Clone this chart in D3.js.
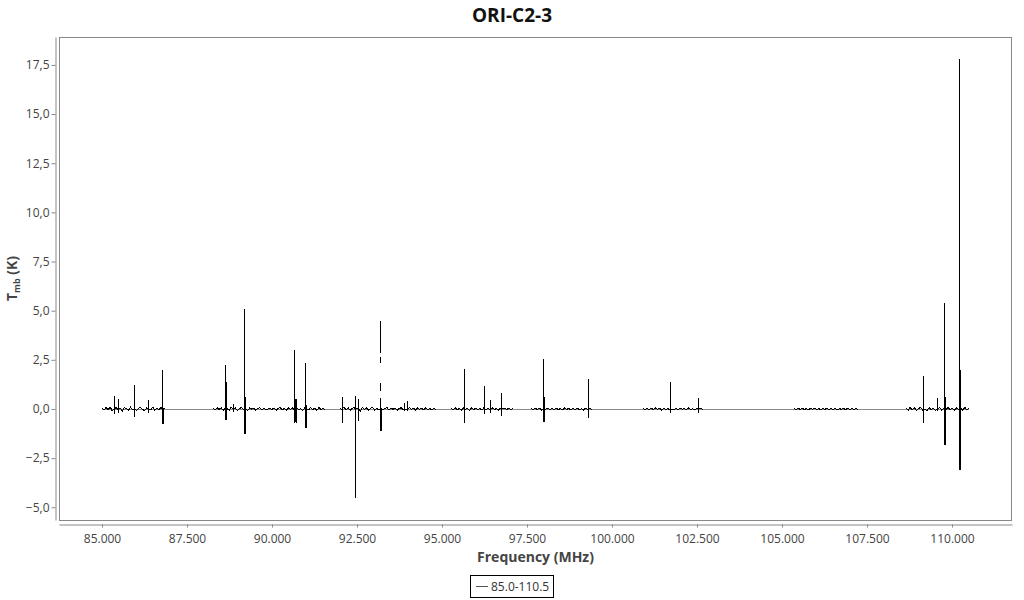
<!DOCTYPE html>
<html><head><meta charset="utf-8">
<script src="https://cdn.jsdelivr.net/npm/d3@7"></script>
<style>body{margin:0;background:#fff}svg{display:block;font-family:"Open Sans","Noto Sans",sans-serif}</style>
</head><body><svg id="c" width="1024" height="600"></svg>
<script>
// ---- data ----
const title = "ORI-C2-3";
const seriesName = "85.0-110.5";
const xTicks = [85000,87500,90000,92500,95000,97500,100000,102500,105000,107500,110000];
const yTicks = [-5,-2.5,0,2.5,5,7.5,10,12.5,15,17.5];
// observed frequency windows (MHz)
const segStart = [85000,88265,92000,95264,97617,100911,105352,108646];
const segEnd   = [86853,91558,94823,97088,99411,102676,107234,110500];
// baseline noise samples (K), evenly spread over each window
const segNoise = [
 [0.04,-0.06,0.08,-0.03,0.10,-0.09,0.02,0.07,-0.05,0.03,-0.10,0.06,0.01,-0.07,0.09,-0.04,0.05,-0.08,0.03,0.08,-0.02,-0.09,0.06,0.00,-0.05,0.10,-0.06,0.04,-0.03,0.07,-0.08,0.02],
 [0.03,-0.05,0.07,-0.02,0.06,-0.08,0.04,0.01,-0.06,0.09,-0.03,0.05,-0.07,0.02,0.08,-0.04,0.03,-0.09,0.06,-0.01,0.05,-0.06,0.02,0.07,-0.05,0.04,-0.03,0.00,0.02,-0.02,0.06,-0.07,0.03,0.08,-0.05,0.04,-0.08,0.06,-0.02,0.05,-0.06,0.09,-0.04,0.02,-0.07,0.05,0.01,-0.05,0.08,-0.03,0.04,-0.06,0.07,-0.02,0.03,-0.04],
 [0.05,-0.07,0.09,-0.04,0.06,-0.08,0.03,0.07,-0.05,0.02,-0.09,0.08,-0.03,0.05,-0.06,0.04,0.09,-0.07,0.02,-0.04,0.06,-0.05,0.03,0.07,-0.06,0.04,-0.02,0.05,-0.07,0.03,0.06,-0.04,0.02,-0.05,0.07,-0.03,0.04,-0.06,0.05,-0.02,0.03,-0.05,0.06,-0.04,0.02,-0.06,0.04,-0.03],
 [0.03,-0.05,0.06,-0.04,0.02,-0.06,0.05,-0.02,0.04,-0.07,0.06,-0.03,0.05,-0.04,0.03,-0.06,0.07,-0.02,0.04,-0.05,0.06,-0.03,0.02,-0.05,0.04,-0.06,0.05,-0.02,0.03,-0.04,0.02],
 [0.02,-0.04,0.05,-0.03,0.04,-0.05,0.03,-0.02,0.05,-0.04,0.03,-0.05,0.04,-0.03,0.02,-0.04,0.05,-0.02,0.03,-0.05,0.04,-0.03,0.05,-0.04,0.02,-0.05,0.04,-0.02,0.03,-0.03],
 [0.03,-0.04,0.02,-0.05,0.04,-0.03,0.05,-0.02,0.03,-0.05,0.04,-0.03,0.02,-0.04,0.05,-0.03,0.03,-0.05,0.04,-0.02,0.03,-0.04,0.05,-0.03,0.02,-0.05,0.04,-0.02,0.03,-0.04],
 [0.02,-0.03,0.03,-0.02,0.04,-0.03,0.02,-0.04,0.03,-0.02,0.03,-0.03,0.02,-0.04,0.03,-0.02,0.04,-0.03,0.02,-0.03,0.03,-0.04,0.02,-0.02,0.03,-0.03,0.04,-0.02,0.02,-0.03,0.03,-0.02],
 [0.05,-0.07,0.08,-0.04,0.06,-0.08,0.03,0.07,-0.06,0.04,-0.09,0.07,-0.03,0.05,-0.07,0.04,0.08,-0.06,0.03,-0.05,0.07,-0.04,0.05,-0.08,0.06,-0.03,0.04,-0.06,0.08,-0.05,0.03]
];
// spectral lines: frequency (MHz), peak (K), dip (K), shoulder (K, thick part) or null
const lineFreq = [85353,85479,85950,86362,86773,88638,88862,89185,90676,90991,92067,92461,92550,93185,93911,93991,95655,96243,96431,96755,97979,99302,101735,102550,109175,109566,109772,110213];
const linePeak = [0.66,0.49,1.22,0.46,1.99,2.24,0.25,5.09,3.00,2.33,0.60,0.66,0.52,0.55,0.30,0.41,2.02,1.17,0.46,0.80,2.53,1.51,1.36,0.54,1.68,0.54,5.38,17.82];
const lineDip  = [-0.25,-0.20,-0.39,-0.20,-0.76,-0.56,-0.14,-1.29,-0.70,-0.98,-0.73,-4.55,-0.61,-1.12,-0.10,-0.10,-0.70,-0.27,-0.19,-0.34,-0.65,-0.47,-0.19,-0.22,-0.70,-0.10,-1.83,-3.10];
const lineShoulder = [null,null,null,null,-0.3,1.39,null,0.63,0.50,0.20,null,null,null,-0.56,null,null,null,null,null,null,0.63,null,null,null,null,null,0.60,1.99];
// broken upper part of the 93185 MHz line
const brokenFreq = 93185;
const brokenTop = [4.45,2.63,1.31];
const brokenBottom = [2.83,2.33,0.93];

// ---- chart ----
const svg = d3.select("#c");
const L = 59, R = 1012, T = 37, B = 520;
const x = d3.scaleLinear().domain([83735,111765]).range([L,R]);
const y = d3.scaleLinear().domain([-5.647,18.92]).range([B,T]);
const loc = d3.formatLocale({decimal:",",thousands:".",grouping:[3],currency:["",""]});
const fx = loc.format(",.0f"), fy = loc.format(".1f");

svg.append("text").attr("x",512).attr("y",22).attr("text-anchor","middle")
  .attr("font-size",19).attr("font-weight","bold").attr("fill","#111").text(title);

svg.append("rect").attr("x",L+0.5).attr("y",T+0.5).attr("width",R-L-1).attr("height",B-T)
  .attr("fill","none").attr("stroke","#888");

const gx = svg.append("g").attr("transform",`translate(0,524.5)`)
  .call(d3.axisBottom(x).tickValues(xTicks).tickFormat(fx).tickSize(3).tickSizeOuter(0));
gx.select(".domain").attr("stroke","#888");
gx.selectAll(".tick line").attr("stroke","#888");
gx.selectAll(".tick text").attr("fill","#444").attr("font-size",12).attr("dy","1.0em").attr("font-family","Open Sans");

const gy = svg.append("g").attr("transform",`translate(55.5,0)`)
  .call(d3.axisLeft(y).tickValues(yTicks).tickFormat(fy).tickSize(4).tickSizeOuter(0));
gy.select(".domain").attr("stroke","#888");
gy.selectAll(".tick line").attr("stroke","#888");
gy.selectAll(".tick text").attr("fill","#444").attr("font-size",12).attr("x",-6).attr("font-family","Open Sans");

svg.append("text").attr("x",(L+R)/2).attr("y",562).attr("text-anchor","middle")
  .attr("font-size",14).attr("font-weight","bold").attr("fill","#444").text("Frequency (MHz)");

const yt = svg.append("text").attr("transform",`translate(17,${(T+B)/2}) rotate(-90)`)
  .attr("text-anchor","middle").attr("font-size",14).attr("font-weight","bold").attr("fill","#444");
yt.append("tspan").text("T");
yt.append("tspan").attr("font-size",9).attr("dy",3).text("mb");
yt.append("tspan").attr("dy",-3).text(" (K)");

// data
svg.append("clipPath").attr("id","clip").append("rect").attr("x",L).attr("y",T).attr("width",R-L).attr("height",B-T);
const plot = svg.append("g").attr("clip-path","url(#clip)");
plot.append("line").attr("x1",x(segStart[0])).attr("x2",x(segEnd[segEnd.length-1]))
  .attr("y1",Math.round(y(0))+0.5).attr("y2",Math.round(y(0))+0.5).attr("stroke","#8a8a8a");

const line = d3.line().defined(d=>!isNaN(d.v)).x(d=>x(d.f)).y(d=>y(d.v));
segStart.forEach((s,i)=>{
  const e = segEnd[i], n = segNoise[i].length;
  const noise = segNoise[i].map((v,j)=>({f:s+j*(e-s)/(n-1), v}));
  // split noise around lines so each line is a clean vertical stroke
  let pts = [];
  const inSeg = lineFreq.map((f,k)=>k).filter(k=>lineFreq[k]>=s && lineFreq[k]<=e);
  let ni = 0;
  inSeg.forEach(k=>{
    const f = lineFreq[k];
    while (ni<noise.length && noise[ni].f < f) pts.push(noise[ni++]);
    pts.push({f, v:0},{f, v:linePeak[k]},{f, v:lineDip[k]});
    if (lineShoulder[k]!==null) pts.push({f:f+30, v:lineShoulder[k]},{f:f+30, v:lineDip[k]},{f:f+30, v:0});
    else pts.push({f, v:0});
    while (ni<noise.length && noise[ni].f <= f+30) ni++;
  });
  while (ni<noise.length) pts.push(noise[ni++]);
  plot.append("path").attr("d",line(pts)).attr("fill","none").attr("stroke","#000")
    .attr("stroke-width",1).attr("shape-rendering","crispEdges");
});
brokenTop.forEach((t,k)=>{
  plot.append("path").attr("d",line([{f:brokenFreq,v:t},{f:brokenFreq,v:brokenBottom[k]}]))
    .attr("fill","none").attr("stroke","#000").attr("shape-rendering","crispEdges");
});

// legend
const lg = svg.append("g");
lg.append("rect").attr("x",470.5).attr("y",575.5).attr("width",83).attr("height",22).attr("fill","#fff").attr("stroke","#000");
lg.append("line").attr("x1",476).attr("x2",488).attr("y1",586.5).attr("y2",586.5).attr("stroke","#555");
lg.append("text").attr("x",491).attr("y",591).attr("font-size",12).attr("fill","#333").text(seriesName);
</script></body></html>
